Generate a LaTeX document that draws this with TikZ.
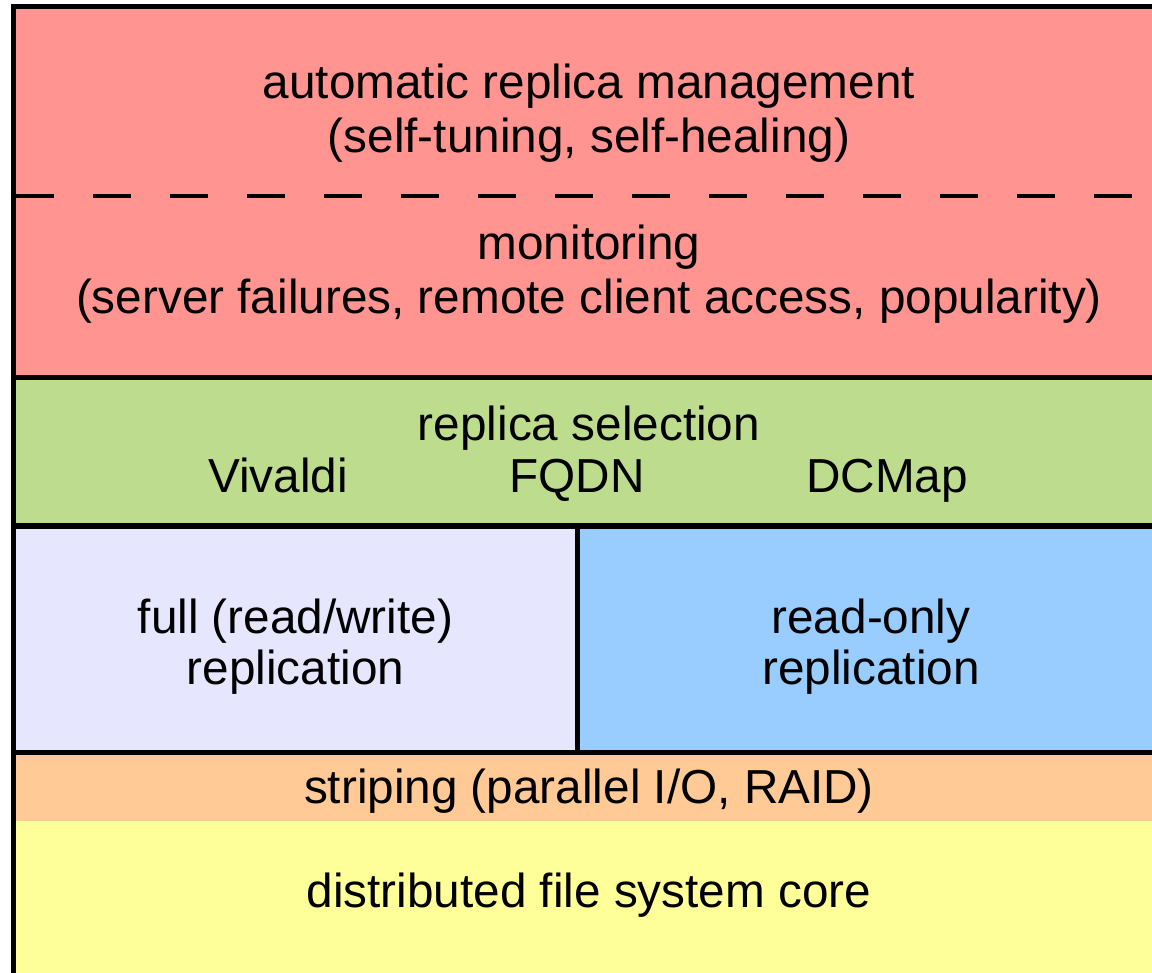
\documentclass[tikz,border=0pt]{standalone}
\usepackage{fontspec}
\setmainfont{Liberation Sans}
\definecolor{cred}{HTML}{FF9490}
\definecolor{cgreen}{HTML}{BDDC8D}
\definecolor{clav}{HTML}{E6E6FF}
\definecolor{cblue}{HTML}{99CCFF}
\definecolor{corange}{HTML}{FFCA96}
\definecolor{cyellow}{HTML}{FFFF99}
\tikzset{
  layer/.style={draw=black, line width=5pt, rectangle, anchor=north west, inner sep=0pt, outer sep=0pt},
  band/.style={rectangle, anchor=north west, inner sep=0pt, outer sep=0pt},
  lbl/.style={anchor=base, inner sep=0pt, font=\fontsize{47.7}{53}\selectfont},
  sep/.style={line width=4pt, dash pattern=on 38pt off 39pt},
}
\begin{document}
\begin{tikzpicture}[x=1pt, y=-1pt]
\clip (0,0) rectangle (1152,973);
\fill[white] (0,0) rectangle (1152,973);
% layers
\node[layer, fill=cred, minimum width=1186.5pt, minimum height=371pt] (red) at (13.5,6.5) {};
\node[layer, fill=cgreen, minimum width=1186.5pt, minimum height=148.5pt] (green) at (13.5,377.5) {};
\node[layer, fill=clav, minimum width=564pt, minimum height=226pt] (full) at (13.5,526) {};
\node[layer, fill=cblue, minimum width=622.5pt, minimum height=226pt] (ro) at (577.5,526) {};
\node[layer, fill=cyellow, minimum width=1186.5pt, minimum height=260pt] (core) at (13.5,752) {};
\node[band, fill=corange, minimum width=1150pt, minimum height=66.5pt] (stripe) at (16,754.5) {};
% dashed separator
\coordinate (dl) at (16,196);
\coordinate (dr) at (1200,196);
\draw[sep] (dl) -- (dr);
% texts
\node[lbl] (t1) at (589,99) {automatic replica management};
\node[lbl] (t2) at (589,153) {(self-tuning, self-healing)};
\node[lbl] (t3) at (589,260) {monitoring};
\node[lbl] (t4) at (589,314) {(server failures, remote client access, popularity)};
\node[lbl] (t5) at (589,441) {replica selection};
\node[lbl] (t6) at (278,493) {Vivaldi};
\node[lbl] (t7) at (577,493) {FQDN};
\node[lbl] (t8) at (887,493) {DCMap};
\node[lbl] (t9) at (295.5,633) {full (read/write)};
\node[lbl] (t10) at (295.5,684) {replication};
\node[lbl] (t11) at (871,633) {read-only};
\node[lbl] (t12) at (871,684) {replication};
\node[lbl] (t13) at (589,803) {striping (parallel I/O, RAID)};
\node[lbl] (t14) at (589,907) {distributed file system core};
\end{tikzpicture}
\end{document}
